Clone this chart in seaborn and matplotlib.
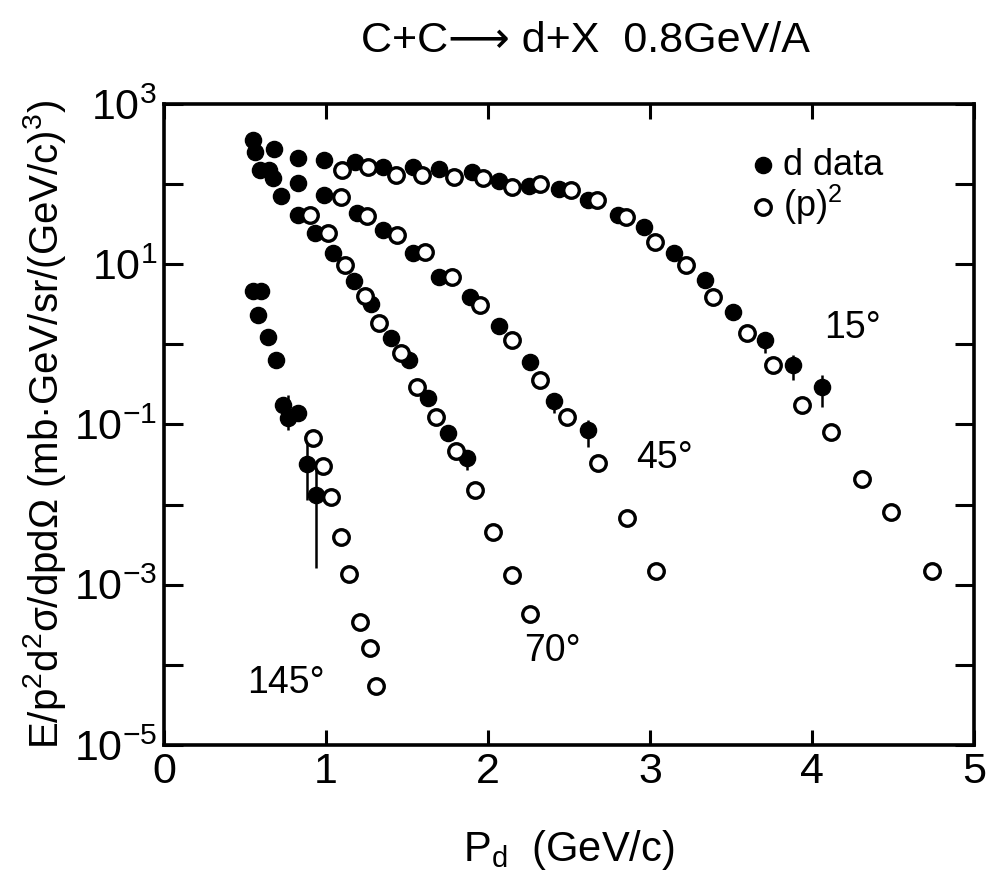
import matplotlib
matplotlib.use("Agg")
import matplotlib.pyplot as plt
from matplotlib.ticker import FixedLocator, NullFormatter
import pandas as pd
import seaborn as sns

# ---- deuteron spectra, C+C -> d+X at 0.8 GeV/A ----
angles = ["15°", "45°", "70°", "145°"]

# measured deuteron cross sections (filled points)
p_d_15 = [0.55, 0.68, 0.83, 0.99, 1.18, 1.35, 1.54, 1.70, 1.90, 2.07, 2.25,
          2.44, 2.62, 2.80, 2.96, 3.15, 3.34, 3.51, 3.71, 3.88, 4.06]
v_d_15 = [356, 275, 212, 200, 189, 164, 164, 155, 142, 110, 95,
          87, 63.5, 41, 29, 13.9, 6.4, 2.55, 1.14, 0.557, 0.296]
p_d_45 = [0.56, 0.65, 0.83, 0.99, 1.19, 1.35, 1.54, 1.70, 1.89, 2.07, 2.26, 2.41, 2.62]
v_d_45 = [252, 150, 104, 73, 43.7, 26.8, 13.9, 7.0, 3.9, 1.71, 0.607, 0.198, 0.086]
p_d_70 = [0.59, 0.67, 0.72, 0.83, 0.93, 1.04, 1.17, 1.28, 1.40, 1.51, 1.63, 1.75, 1.87]
v_d_70 = [150, 119, 71, 41, 24.7, 13.9, 6.2, 3.2, 1.21, 0.643, 0.216, 0.079, 0.0385]
p_d_145 = [0.55, 0.58, 0.60, 0.64, 0.69, 0.735, 0.765, 0.83, 0.88, 0.94]
v_d_145 = [4.7, 2.34, 4.7, 1.24, 0.643, 0.177, 0.122, 0.140, 0.032, 0.0133]

# squared proton cross sections (open points)
p_p_15 = [1.10, 1.26, 1.43, 1.59, 1.79, 1.97, 2.15, 2.32, 2.51, 2.67, 2.85,
          3.03, 3.22, 3.39, 3.60, 3.76, 3.94, 4.12, 4.31, 4.49, 4.74]
v_p_15 = [150, 164, 130, 130, 123, 119, 92, 100, 85, 63.5, 39,
          19, 9.8, 3.9, 1.40, 0.557, 0.177, 0.081, 0.021, 0.0082, 0.0015]
p_p_45 = [1.09, 1.25, 1.44, 1.61, 1.78, 1.95, 2.15, 2.32, 2.49, 2.68, 2.86, 3.04]
v_p_45 = [69, 40, 23.3, 14.3, 7.0, 3.12, 1.14, 0.362, 0.125, 0.033, 0.0069, 0.0015]
p_p_70 = [0.90, 1.01, 1.12, 1.24, 1.33, 1.46, 1.56, 1.68, 1.80, 1.92, 2.03, 2.15, 2.26]
v_p_70 = [41, 24.7, 9.8, 4.0, 1.86, 0.785, 0.296, 0.125, 0.047, 0.015, 0.0045,
          0.00134, 0.000425]
p_p_145 = [0.92, 0.98, 1.03, 1.09, 1.14, 1.21, 1.27, 1.31]
v_p_145 = [0.068, 0.030, 0.0126, 0.0039, 0.00138, 0.00034, 0.00016, 0.0000538]

# error bars on deuteron points (momentum, lower, upper)
err_p = [3.71, 3.88, 4.06, 2.41, 2.62, 0.67, 1.87, 0.765, 0.88, 0.94]
err_lo = [0.785, 0.362, 0.167, 0.140, 0.053, 104, 0.0273, 0.086, 0.0115, 0.00164]
err_hi = [1.44, 0.74, 0.418, 0.249, 0.115, 164, 0.0458, 0.235, 0.0705, 0.0273]

# angle labels: (momentum, value)
label_p = [4.25, 3.09, 2.40, 0.75]
label_v = [1.6, 0.038, 1.5e-4, 6e-5]

x_ticks = [0, 1, 2, 3, 4, 5]
y_major = [1e3, 1e1, 1e-1, 1e-3, 1e-5]
y_major_labels = ["$10^{3}$", "$10^{1}$", "$10^{-1}$", "$10^{-3}$", "$10^{-5}$"]
y_minor = [1e2, 1e0, 1e-2, 1e-4]

frames = []
for ang, pd_, vd_, pp_, vp_ in zip(
        angles,
        [p_d_15, p_d_45, p_d_70, p_d_145], [v_d_15, v_d_45, v_d_70, v_d_145],
        [p_p_15, p_p_45, p_p_70, p_p_145], [v_p_15, v_p_45, v_p_70, v_p_145]):
    frames.append(pd.DataFrame({"p": pd_, "value": vd_, "angle": ang, "kind": "d data"}))
    frames.append(pd.DataFrame({"p": pp_, "value": vp_, "angle": ang, "kind": "(p)$^2$"}))
df = pd.concat(frames, ignore_index=True)

sns.set_style("ticks")
font = ["Liberation Sans Narrow", "Liberation Sans", "DejaVu Sans"]
plt.rcParams.update({
    "font.family": font,
    "mathtext.fontset": "custom",
    "mathtext.rm": "Liberation Sans Narrow",
    "mathtext.it": "Liberation Sans Narrow:italic",
    "mathtext.default": "regular",
    "text.color": "black",
    "axes.labelcolor": "black",
    "axes.edgecolor": "black",
    "xtick.color": "black",
    "ytick.color": "black",
})

fig = plt.figure(figsize=(9.87, 8.71), dpi=100)
ax = fig.add_axes([0.1662, 0.1447, 0.8206, 0.7359])

ax.vlines(err_p, err_lo, err_hi, color="black", lw=1.8, zorder=2)
sns.scatterplot(data=df[df["kind"] == "d data"], x="p", y="value", ax=ax,
                color="black", edgecolor="black", s=135, linewidth=1,
                label="d data", zorder=3)
sns.scatterplot(data=df[df["kind"] != "d data"], x="p", y="value", ax=ax,
                facecolor="white", edgecolor="black", s=125, linewidth=2.4,
                label="(p)$^2$", zorder=4)

ax.set_yscale("log")
ax.set_xlim(0, 5)
ax.set_ylim(1e-5, 1e3)
ax.set_xticks(x_ticks)
ax.set_xticklabels([str(t) for t in x_ticks])
ax.yaxis.set_major_locator(FixedLocator(y_major))
ax.set_yticklabels(y_major_labels)
ax.yaxis.set_minor_locator(FixedLocator(y_minor))
ax.yaxis.set_minor_formatter(NullFormatter())

for s in ax.spines.values():
    s.set_linewidth(2.6)
    s.set_visible(True)
ax.tick_params(axis="both", which="both", direction="in", top=True, right=True,
               width=2.2, length=11, labelsize=31, pad=5)
ax.tick_params(axis="y", which="both", length=14)

ax.set_xlabel("P$_d$  (GeV/c)", fontsize=30, labelpad=26)
ax.set_ylabel("E/p$^2$d$^2$σ/dpdΩ (mb·GeV/sr/(GeV/c)$^3$)", fontsize=29, labelpad=4)
fig.text(0.593, 0.953, "C+C⟶ d+X  0.8GeV/A", fontsize=31, ha="center", va="center",
         family=font)

for txt, xp, yv in zip(angles, label_p, label_v):
    ax.text(xp, yv, txt, fontsize=27, ha="center", va="center")

leg = ax.legend(loc="upper left", bbox_to_anchor=(0.70, 0.96), frameon=False,
                fontsize=26, handletextpad=0.15, labelspacing=0.0, borderpad=0,
                handlelength=0.8, markerscale=1.0)

fig.savefig("out.png", dpi=100)
